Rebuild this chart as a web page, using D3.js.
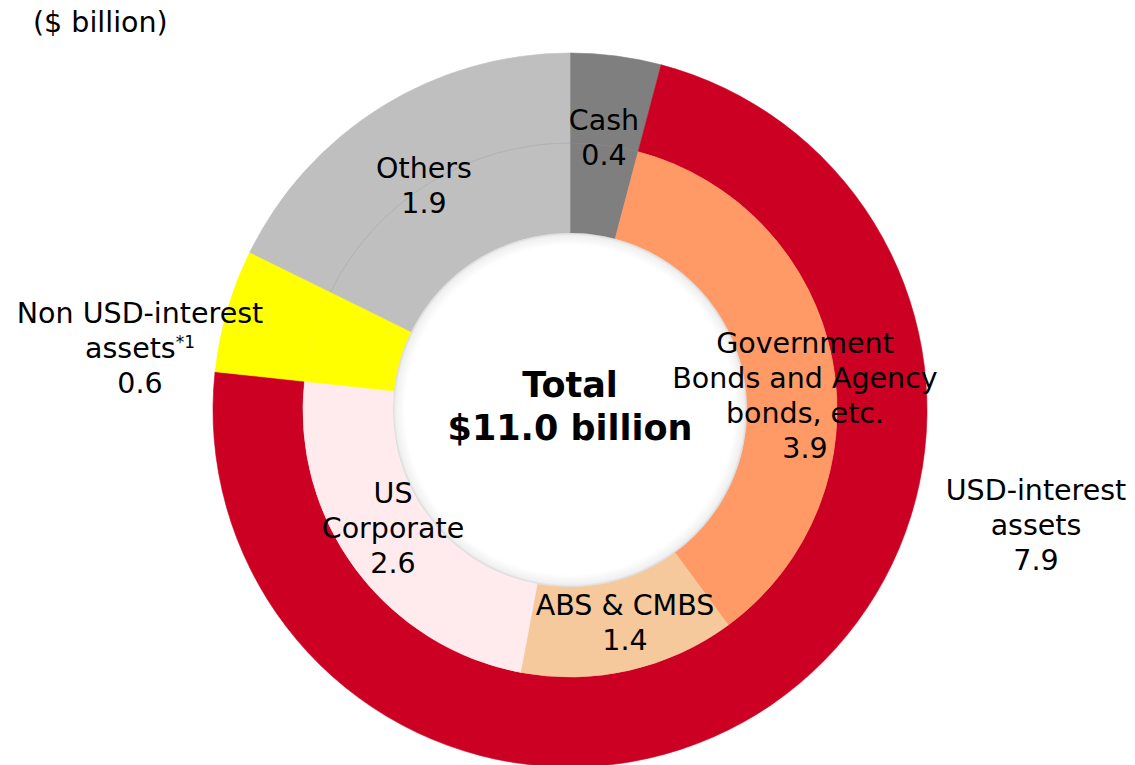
<!DOCTYPE html>
<html>
<head>
<meta charset="utf-8">
<script src="https://cdn.jsdelivr.net/npm/d3@7"></script>
<style>
body { margin: 0; background: #fff; }
text { font-family: "DejaVu Sans", Verdana, sans-serif; fill: #000; }
</style>
</head>
<body>
<script>
// outer ring: asset type by interest currency
var outerNames = ["Cash", "USD-interest assets", "Non USD-interest assets", "Others"];
var outerValues = [0.45, 7.95, 0.61, 1.94];
var outerColors = ["#7f7f7f", "#cc0022", "#ffff00", "#bfbfbf"];

// inner ring: breakdown
var innerNames = ["Cash", "Government Bonds and Agency bonds, etc.", "ABS & CMBS", "US Corporate", "Non USD-interest assets", "Others"];
var innerValues = [0.45, 3.92, 1.43, 2.60, 0.61, 1.94];
var innerColors = ["#7f7f7f", "#ff9966", "#f5c99b", "#ffebee", "#ffff00", "#bfbfbf"];

// label text (values as printed on the chart)
var labelLines = [
    ["Cash", "0.4"],
    ["Government", "Bonds and Agency", "bonds, etc.", "3.9"],
    ["ABS & CMBS", "1.4"],
    ["US", "Corporate", "2.6"],
    ["Non USD-interest", "assets", "0.6"],
    ["Others", "1.9"],
    ["USD-interest", "assets", "7.9"]
];
var totalLines = ["Total", "$11.0 billion"];
var unitLabel = "($ billion)";

// layout
var w = 1135, h = 765;
var cx = 570, cy = 410;
var rHole = 177, rMid = 267, rOuter = 357;

// label anchor (centre x, first baseline y) for each labelLines entry
var labelPos = [[604, 130], [805, 353], [625, 615], [393, 503], [140, 323], [424, 178], [1036, 500]];
var lineGap = 35;

var svg = d3.select("body")
            .append("svg")
            .attr("width", w)
            .attr("height", h);

var defs = svg.append("defs");
var grad = defs.append("radialGradient").attr("id", "holeShade");
grad.append("stop").attr("offset", "0.93").attr("stop-color", "#ffffff");
grad.append("stop").attr("offset", "0.985").attr("stop-color", "#f0f0f0");
grad.append("stop").attr("offset", "1").attr("stop-color", "#d8d8d8");

var g = svg.append("g")
           .attr("transform", "translate(" + cx + "," + cy + ")");

var pie = d3.pie().sort(null).value(function(d) { return d; });

var outerArc = d3.arc().innerRadius(rMid).outerRadius(rOuter);
var innerArc = d3.arc().innerRadius(rHole).outerRadius(rMid);

g.selectAll("path.outer")
 .data(pie(outerValues))
 .enter()
 .append("path")
 .attr("class", "outer")
 .attr("d", outerArc)
 .attr("fill", function(d, i) { return outerColors[i]; })
 .attr("stroke", function(d, i) { return outerColors[i]; })
 .attr("stroke-width", 0.6);

var innerSlices = pie(innerValues);

g.selectAll("path.inner")
 .data(innerSlices)
 .enter()
 .append("path")
 .attr("class", "inner")
 .attr("d", innerArc)
 .attr("fill", function(d, i) { return innerColors[i]; })
 .attr("stroke", function(d, i) { return innerColors[i]; })
 .attr("stroke-width", 0.6);

// faint ring boundary inside "Others"
var othersSlice = innerSlices[5];
g.append("path")
 .attr("d", d3.arc()({innerRadius: rMid, outerRadius: rMid,
                      startAngle: othersSlice.startAngle, endAngle: othersSlice.endAngle}))
 .attr("fill", "none")
 .attr("stroke", "#b2b2b2")
 .attr("stroke-width", 0.8);

// hole with soft edge
g.append("circle")
 .attr("r", rHole)
 .attr("fill", "url(#holeShade)");

// centre total
g.selectAll("text.total")
 .data(totalLines)
 .enter()
 .append("text")
 .attr("class", "total")
 .attr("text-anchor", "middle")
 .attr("y", function(d, i) { return -13 + i * 43; })
 .style("font-size", "35px")
 .style("font-weight", "bold")
 .text(function(d) { return d; });

// segment labels
labelLines.forEach(function(lines, k) {
    var t = svg.append("text")
               .attr("text-anchor", "middle")
               .style("font-size", "28.5px");
    lines.forEach(function(line, j) {
        t.append("tspan")
         .attr("x", labelPos[k][0])
         .attr("y", labelPos[k][1] + j * lineGap)
         .text(line);
        if (k == 4 && j == 1) {
            // footnote marker
            t.append("tspan")
             .attr("dy", -10)
             .style("font-size", "17px")
             .text("*1");
        }
    });
});

svg.append("text")
   .attr("x", 33)
   .attr("y", 32)
   .style("font-size", "28.5px")
   .text(unitLabel);
</script>
</body>
</html>
